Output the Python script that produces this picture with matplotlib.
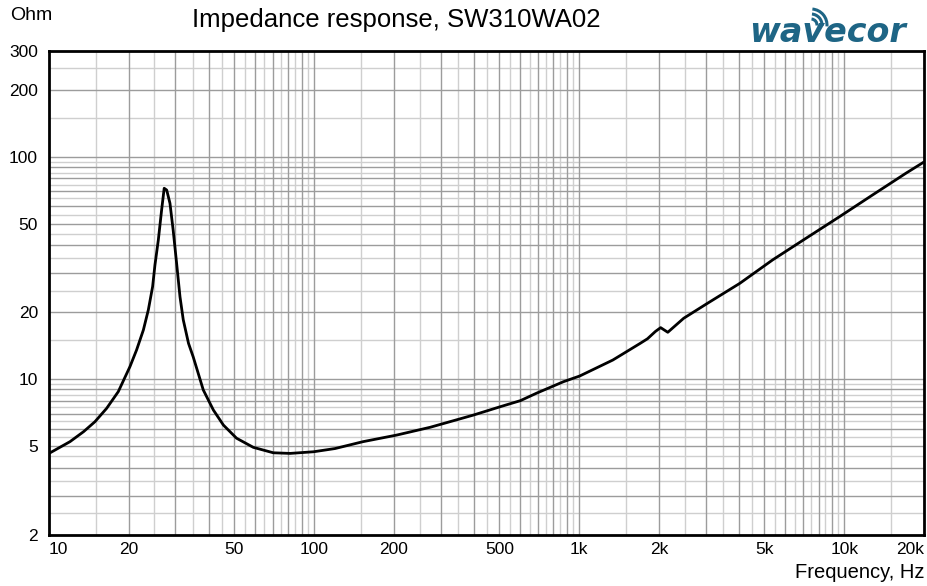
import matplotlib
matplotlib.use("Agg")
import matplotlib.pyplot as plt
from matplotlib.patches import Arc
from matplotlib.transforms import IdentityTransform

plt.rcParams['font.family'] = ['Liberation Sans', 'DejaVu Sans']

# ---- data ----
freq_hz = [10, 12.0, 13.5, 14.9, 16.5, 18.25, 20.2, 21.4, 22.7, 23.7, 24.6, 25.1, 25.85,
           26.6, 27.2, 27.8, 28.6, 29.4, 30.3, 31.2, 32.1, 33.6, 35.0, 38.2,
           41.7, 45.5, 51.0, 59.0, 70.2, 81.2, 99.6, 120, 153, 205, 274, 399,
           505, 600, 690, 873, 1005, 1340, 1700, 1810, 1940, 2030, 2160, 2480, 3040,
           4040, 5370, 7170, 9600, 12800, 17100, 20000]
impedance_ohm = [4.64, 5.24, 5.81, 6.44, 7.40, 8.79, 11.39, 13.54, 16.65, 20.5, 26.1, 32.6, 42.3,
                 57.7, 72.2, 70.9, 61.8, 46.9, 33.2, 23.5, 18.5, 14.5, 12.6, 8.95,
                 7.27, 6.22, 5.43, 4.94, 4.67, 4.64, 4.72, 4.88, 5.24, 5.61, 6.08, 6.90,
                 7.53, 8.01, 8.65, 9.75, 10.34, 12.2, 14.5, 15.2, 16.4, 17.06, 16.26, 18.8, 21.9,
                 27.0, 34.4, 43.0, 53.8, 67.4, 84.4, 94.8]

x_ticks = [10, 20, 50, 100, 200, 500, 1000, 2000, 5000, 10000, 20000]
x_labels = ['10', '20', '50', '100', '200', '500', '1k', '2k', '5k', '10k', '20k']
y_ticks = [2, 5, 10, 20, 50, 100, 200, 300]
y_labels = ['2', '5', '10', '20', '50', '100', '200', '300']

W, H = 928, 586
fig = plt.figure(figsize=(W / 100, H / 100), dpi=100)
ax = fig.add_axes([49 / W, (H - 534.7) / H, (924 - 49) / W, (534.7 - 50.7) / H])
ax.set_xscale('log')
ax.set_yscale('log')
ax.set_xlim(10, 20000)
ax.set_ylim(2, 300)

dark = '#9c9c9c'
light = '#cfcfcf'
for dec in [10, 100, 1000, 10000]:
    for n in range(1, 10):
        v = n * dec
        if 10 < v < 20000:
            ax.axvline(v, color=dark, lw=1.0, zorder=1)
        v2 = (n + 0.5) * dec
        if 10 < v2 < 20000:
            ax.axvline(v2, color=light, lw=1.0, zorder=0.5)
for dec in [1, 10, 100]:
    for n in range(1, 10):
        v = n * dec
        if 2 < v < 300:
            ax.axhline(v, color=dark, lw=1.0, zorder=1)
        v2 = (n + 0.5) * dec
        if 2 < v2 < 300:
            ax.axhline(v2, color=light, lw=1.0, zorder=0.5)

ax.plot(freq_hz, impedance_ohm, color='black', lw=2.0, zorder=3,
        solid_joinstyle='round', solid_capstyle='round')

ax.set_xticks(x_ticks)
ax.set_xticklabels(x_labels)
ax.set_yticks(y_ticks)
ax.set_yticklabels(y_labels)
ax.minorticks_off()
ax.tick_params(axis='both', length=0, labelsize=12.5, colors='black')
ax.tick_params(axis='x', pad=5)
ax.tick_params(axis='y', pad=8)
xl = ax.get_xticklabels()
xl[0].set_horizontalalignment('left')
xl[-1].set_horizontalalignment('right')
for s in ax.spines.values():
    s.set_linewidth(2.0)
    s.set_color('black')

fig.text(396 / W, 1 - 20 / H, 'Impedance response, SW310WA02', ha='center', va='center', fontsize=18.5)
fig.text(10 / W, 1 - 16 / H, 'Ohm', ha='left', va='center', fontsize=14)
fig.text(925 / W, 1 - 573 / H, 'Frequency, Hz', ha='right', va='center', fontsize=14.5)

# logo
teal = '#1e6585'
fig.text(828 / W, 1 - 33 / H, 'wavecor', ha='center', va='center', fontsize=24,
         fontweight='bold', style='italic', color=teal, family='DejaVu Sans')
for r in [6, 11, 16]:
    fig.add_artist(Arc((811, H - 25), 2 * r, 2 * r, theta1=-5, theta2=85,
                       transform=IdentityTransform(), color=teal, lw=2.2))

fig.savefig('out.png', dpi=100)
